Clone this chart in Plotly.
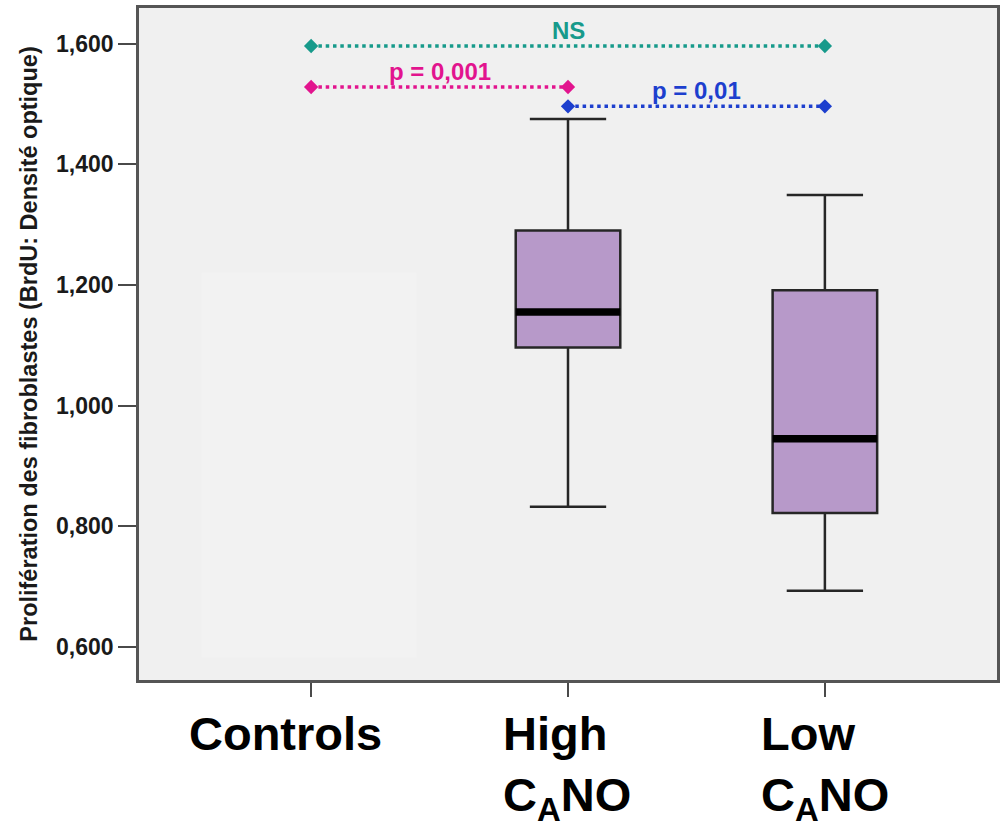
import plotly.graph_objects as go

# Groups and box statistics (proliferation, BrdU optical density)
groups = ["Controls", "High<br>C<sub>A</sub>NO", "Low<br>C<sub>A</sub>NO"]
group_pos = [0, 1, 2]
box_pos = [1, 2]
q1 = [1.096, 0.822]
median = [1.155, 0.945]
q3 = [1.290, 1.191]
lower_whisker = [0.832, 0.693]
upper_whisker = [1.475, 1.349]

# Pairwise comparisons: (from group, to group, bar height, label, colour)
comp_from = [0, 0, 1]
comp_to = [2, 1, 2]
comp_y = [1.596, 1.528, 1.496]
comp_text = ["NS", "p = 0,001", "p = 0,01"]
comp_color = ["#179a8b", "#e2148e", "#1d3fce"]

y_ticks = [0.6, 0.8, 1.0, 1.2, 1.4, 1.6]
y_ticktext = ["0,600", "0,800", "1,000", "1,200", "1,400", "1,600"]

FONT = "Arial, 'Liberation Sans', sans-serif"
BOX_W = 0.407

fig = go.Figure()

for i, p in enumerate(box_pos):
    fig.add_trace(go.Box(
        x=[p], q1=[q1[i]], median=[median[i]], q3=[q3[i]],
        lowerfence=[lower_whisker[i]], upperfence=[upper_whisker[i]],
        width=BOX_W, whiskerwidth=0.73,
        fillcolor="#b799c9",
        line=dict(color="#262626", width=2.5),
        boxpoints=False, hoverinfo="skip", showlegend=False,
    ))
    # heavy median bar
    fig.add_trace(go.Scatter(
        x=[p - BOX_W / 2, p + BOX_W / 2], y=[median[i], median[i]],
        mode="lines", line=dict(color="black", width=7.5),
        hoverinfo="skip", showlegend=False,
    ))

annotations = []
for a, b, y, t, c in zip(comp_from, comp_to, comp_y, comp_text, comp_color):
    fig.add_trace(go.Scatter(
        x=[a, b], y=[y, y], mode="lines+markers",
        line=dict(color=c, width=3.5, dash="3.5px,3.8px"),
        marker=dict(symbol="diamond", size=11, color=c),
        hoverinfo="skip", showlegend=False,
    ))
    annotations.append(dict(
        x=(a + b) / 2, y=y, xref="x", yref="y", text=f"<b>{t}</b>",
        showarrow=False, yanchor="bottom", yshift=0,
        font=dict(family=FONT, size=24, color=c),
    ))

# Category labels below the axis
label_shift = [-124, -67, -66]
for g, p, s in zip(groups, group_pos, label_shift):
    annotations.append(dict(
        x=p, y=0, xref="x", yref="paper", text=f"<b>{g}</b>",
        showarrow=False, xanchor="left", yanchor="top", align="left",
        xshift=s, yshift=-25,
        font=dict(family=FONT, size=47, color="black"),
    ))

fig.update_layout(
    width=1003, height=822,
    margin=dict(l=139, r=3, t=8, b=142),
    paper_bgcolor="white",
    plot_bgcolor="#f0f0f0",
    annotations=annotations,
    shapes=[dict(
        type="rect", xref="x", yref="y", x0=-0.426, x1=0.41, y0=0.582, y1=1.22,
        fillcolor="#f2f2f2", line=dict(width=0), layer="below",
    )],
    xaxis=dict(
        range=[-0.67, 2.67], tickvals=group_pos, showticklabels=False,
        ticks="outside", ticklen=14, tickwidth=2, tickcolor="#4a4a4a",
        showgrid=False, zeroline=False,
        showline=True, mirror=True, linecolor="#555555", linewidth=2.5,
    ),
    yaxis=dict(
        range=[0.545, 1.659], tickvals=y_ticks, ticktext=y_ticktext,
        ticks="outside", ticklen=18, tickwidth=2, tickcolor="#4a4a4a",
        tickfont=dict(family=FONT, size=23, color="#1a1a1a", weight="bold"),
        showgrid=False, zeroline=False,
        showline=True, mirror=True, linecolor="#555555", linewidth=2.5,
        title=dict(
            text="<b>Prolifération des fibroblastes (BrdU: Densité optique)</b>",
            font=dict(family=FONT, size=23.5, color="#1a1a1a"),
            standoff=12,
        ),
    ),
)

fig.write_html("out.html")
